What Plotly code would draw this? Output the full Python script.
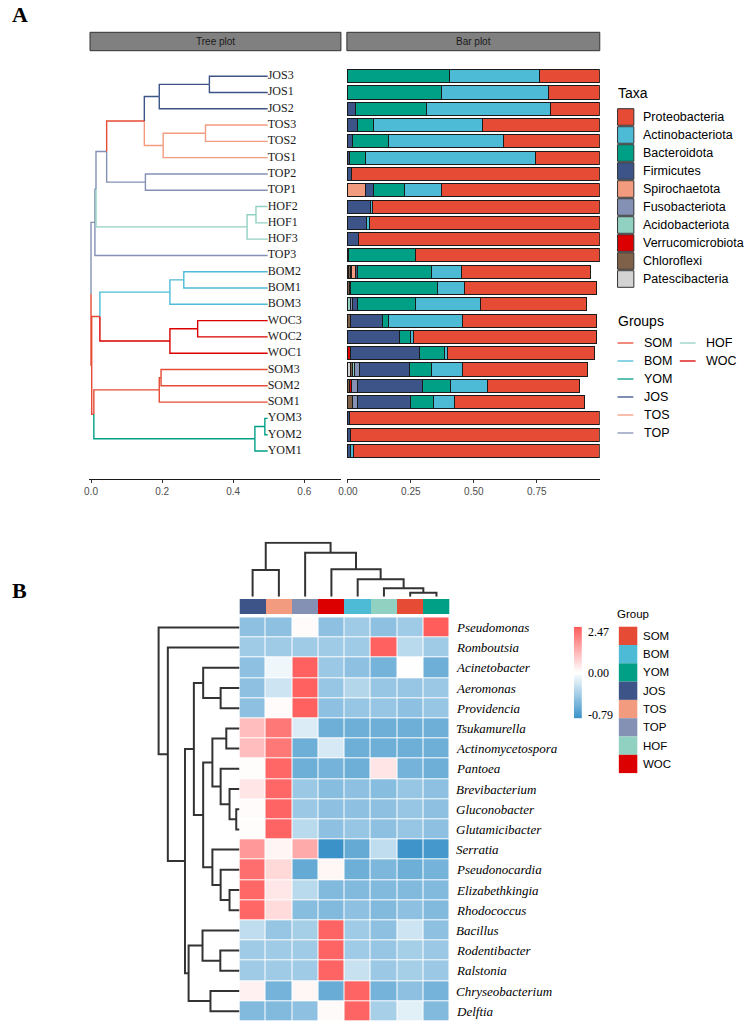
import plotly.graph_objects as go
import numpy as np

W, H = 744, 1024

# ---------------- Panel A data ----------------
groups = ["SOM", "BOM", "YOM", "JOS", "TOS", "TOP", "HOF", "WOC"]
group_colors = ["#E64B35", "#4DBBD5", "#00A087", "#3C5488", "#F39B7F", "#8491B4", "#91D1C2", "#DC0000"]

samples = ["JOS3", "JOS1", "JOS2", "TOS3", "TOS2", "TOS1", "TOP2", "TOP1", "HOF2", "HOF1", "HOF3", "TOP3",
           "BOM2", "BOM1", "BOM3", "WOC3", "WOC2", "WOC1", "SOM3", "SOM2", "SOM1", "YOM3", "YOM2", "YOM1"]

taxa = ["Proteobacteria", "Actinobacteriota", "Bacteroidota", "Firmicutes", "Spirochaetota",
        "Fusobacteriota", "Acidobacteriota", "Verrucomicrobiota", "Chloroflexi", "Patescibacteria"]
taxa_colors = ["#E64B35", "#4DBBD5", "#00A087", "#3C5488", "#F39B7F",
               "#8491B4", "#91D1C2", "#DC0000", "#7E6148", "#D3D3D3"]

proteobacteria = [0.240, 0.203, 0.196, 0.466, 0.384, 0.257, 0.984, 0.630, 0.902, 0.915, 0.958, 0.730,
                  0.512, 0.523, 0.418, 0.529, 0.729, 0.584, 0.497, 0.366, 0.514, 0.990, 0.988, 0.974]
actinobacteriota = [0.355, 0.424, 0.493, 0.434, 0.455, 0.672, 0, 0.146, 0.010, 0.013, 0, 0,
                    0.120, 0.108, 0.258, 0.294, 0.009, 0.012, 0.124, 0.144, 0.084, 0, 0, 0.012]
bacteroidota = [0.405, 0.373, 0.280, 0.063, 0.144, 0.064, 0, 0.122, 0, 0, 0, 0.266,
                0.294, 0.344, 0.233, 0.024, 0.046, 0.098, 0.086, 0.114, 0.094, 0, 0, 0]
firmicutes = [0, 0, 0.031, 0.037, 0.017, 0.007, 0.016, 0.031, 0.088, 0.072, 0.042, 0.004,
              0.008, 0.004, 0.017, 0.127, 0.204, 0.276, 0.200, 0.255, 0.207, 0.008, 0.010, 0.012]
spirochaetota = [0, 0, 0, 0, 0, 0, 0, 0.071, 0, 0, 0, 0,
                 0.018, 0, 0, 0, 0, 0, 0, 0, 0, 0, 0, 0]
fusobacteriota = [0, 0, 0, 0, 0, 0, 0, 0, 0, 0, 0, 0,
                  0.004, 0, 0.008, 0, 0, 0, 0.018, 0.026, 0.022, 0, 0, 0]
acidobacteriota = [0, 0, 0, 0, 0, 0, 0, 0, 0, 0, 0, 0,
                   0, 0, 0.012, 0, 0, 0, 0.008, 0, 0, 0, 0, 0]
verrucomicrobiota = [0, 0, 0, 0, 0, 0, 0, 0, 0, 0, 0, 0,
                     0, 0, 0, 0, 0, 0.010, 0, 0.006, 0, 0, 0, 0]
chloroflexi = [0, 0, 0, 0, 0, 0, 0, 0, 0, 0, 0, 0,
               0.006, 0.008, 0, 0.012, 0, 0, 0.010, 0.008, 0.018, 0, 0, 0]
patescibacteria = [0, 0, 0, 0, 0, 0, 0, 0, 0, 0, 0, 0,
                   0.003, 0, 0, 0, 0, 0, 0.010, 0, 0, 0, 0, 0]
taxa_values = [proteobacteria, actinobacteriota, bacteroidota, firmicutes, spirochaetota,
               fusobacteriota, acidobacteriota, verrucomicrobiota, chloroflexi, patescibacteria]

# sample tree: node = (depth from root, branch colour group, children)
leaf_depth = 0.497
sample_tree = (0.0, None, [
    (0.011, "TOP", [
        (0.014, "TOP", [
            (0.044, "TOP", [
                (0.150, "MIX", [
                    (0.192, "JOS", [(0.333, "JOS", ["JOS3", "JOS1"]), "JOS2"]),
                    (0.203, "TOS", [(0.322, "TOS", ["TOS3", "TOS2"]), "TOS1"])]),
                (0.153, "TOP", ["TOP2", "TOP1"])]),
            (0.439, "HOF", [(0.464, "HOF", ["HOF2", "HOF1"]), "HOF3"])]),
        "TOP3"]),
    (0.002, "MIX", [
        (0.025, "MIX", [
            (0.222, "BOM", [(0.261, "BOM", ["BOM2", "BOM1"]), "BOM3"]),
            (0.222, "WOC", [(0.300, "WOC", ["WOC3", "WOC2"]), "WOC1"])]),
        (0.008, "MIX", [
            (0.192, "SOM", [(0.197, "SOM", ["SOM3", "SOM2"]), "SOM1"]),
            (0.461, "YOM", [(0.489, "YOM", ["YOM3", "YOM2"]), "YOM1"])])])])

tree_ticks = [0.0, 0.2, 0.4, 0.6]
bar_ticks = [0.0, 0.25, 0.50, 0.75]

# ---------------- Panel B data ----------------
hm_cols = ["JOS", "TOS", "TOP", "WOC", "BOM", "HOF", "SOM", "YOM"]
hm_rows = ["Pseudomonas", "Romboutsia", "Acinetobacter", "Aeromonas", "Providencia", "Tsukamurella",
           "Actinomycetospora", "Pantoea", "Brevibacterium", "Gluconobacter", "Glutamicibacter", "Serratia",
           "Pseudonocardia", "Elizabethkingia", "Rhodococcus", "Bacillus", "Rodentibacter", "Ralstonia",
           "Chryseobacterium", "Delftia"]
hm_values = [
    [-0.45, -0.45, 0.06, -0.45, -0.38, -0.45, -0.38, 2.47],
    [-0.38, -0.38, -0.38, -0.38, -0.38, 2.40, -0.28, -0.38],
    [-0.45, -0.06, 2.40, -0.40, -0.45, -0.55, 0.02, -0.58],
    [-0.45, -0.20, 2.40, -0.42, -0.30, -0.42, -0.42, -0.40],
    [-0.45, 0.06, 2.40, -0.45, -0.42, -0.42, -0.45, -0.42],
    [1.00, 2.05, -0.14, -0.58, -0.58, -0.58, -0.58, -0.58],
    [1.00, 2.05, -0.58, -0.16, -0.58, -0.58, -0.58, -0.58],
    [0.04, 2.30, -0.58, -0.55, -0.58, 0.40, -0.55, -0.58],
    [0.40, 2.30, -0.40, -0.48, -0.45, -0.48, -0.42, -0.45],
    [0.06, 2.35, -0.40, -0.45, -0.45, -0.45, -0.42, -0.45],
    [0.05, 2.35, -0.28, -0.45, -0.42, -0.45, -0.42, -0.45],
    [1.55, 0.15, 1.30, -0.79, -0.62, -0.25, -0.77, -0.75],
    [2.20, 0.60, -0.62, 0.14, -0.58, -0.52, -0.58, -0.55],
    [2.30, 0.36, -0.28, -0.50, -0.50, -0.50, -0.50, -0.50],
    [2.30, 0.55, -0.48, -0.50, -0.45, -0.50, -0.45, -0.50],
    [-0.25, -0.42, -0.36, 2.35, -0.38, -0.45, -0.20, -0.45],
    [-0.38, -0.38, -0.38, 2.35, -0.38, -0.42, -0.36, -0.40],
    [-0.38, -0.38, -0.38, 2.35, -0.22, -0.40, -0.36, -0.40],
    [0.22, -0.55, 0.14, -0.60, 2.35, -0.55, -0.45, -0.55],
    [-0.50, -0.50, -0.45, 0.08, 2.35, -0.35, -0.12, -0.50],
]
# dendrograms: (height, left, right)
row_tree = (1.0, "Pseudomonas",
            (0.886, "Romboutsia",
             (0.674,
              (0.564,
               (0.449, "Acinetobacter", (0.233, "Aeromonas", "Providencia")),
               (0.449,
                (0.335, (0.163, "Tsukamurella", "Actinomycetospora"),
                 (0.233, "Pantoea", (0.123, "Brevibacterium", (0.040, "Gluconobacter", "Glutamicibacter")))),
                (0.335, "Serratia", (0.233, "Pseudonocardia", (0.123, "Elizabethkingia", "Rhodococcus"))))),
              (0.629, (0.457, "Bacillus", (0.237, "Rodentibacter", "Ralstonia")),
               (0.359, "Chryseobacterium", "Delftia")))))
col_tree = (1.0, (0.494, "JOS", "TOS"),
            (0.815, "TOP", (0.507, "WOC", (0.322, "BOM", (0.156, "HOF", (0.074, "SOM", "YOM"))))))

# ---------------- helpers ----------------
def dx(a, b):
    return [a / W, b / W]

def dy(top, bottom):
    return [1 - bottom / H, 1 - top / H]

def PX(x):
    return x / W

def PY(y):
    return 1 - y / H

gcol = dict(zip(groups, group_colors))
gcol["MIX"] = "#E64B35"
sample_group = {s: s[:3] for s in samples}
n_s = len(samples)
ypos = {s: n_s - i for i, s in enumerate(samples)}

fig = go.Figure()

# ---------------- tree ----------------
segs = {}

def add_seg(color, xs, ys):
    d = segs.setdefault(color, ([], []))
    d[0].extend(xs + [None])
    d[1].extend(ys + [None])

def walk(node):
    if isinstance(node, str):
        return leaf_depth, ypos[node], gcol[sample_group[node]]
    h, c, kids = node
    res = [walk(k) for k in kids]
    y = float(np.mean([r[1] for r in res]))
    for (kx, ky, kc) in res:
        add_seg(kc, [h, h, kx], [y, ky, ky])
    return h, y, (gcol[c] if c else None)

walk(sample_tree)
for color, (xs, ys) in segs.items():
    fig.add_trace(go.Scatter(x=xs, y=ys, mode="lines", line=dict(color=color, width=1.4),
                             xaxis="x", yaxis="y", hoverinfo="skip", showlegend=False))

fig.add_trace(go.Scatter(x=[leaf_depth] * n_s, y=[ypos[s] for s in samples], text=samples,
                         mode="text", textposition="middle right",
                         textfont=dict(family="Liberation Serif", size=12, color="#1a1a1a"),
                         xaxis="x", yaxis="y", hoverinfo="skip", showlegend=False, cliponaxis=False))

# ---------------- stacked bars ----------------
for name, color, vals in reversed(list(zip(taxa, taxa_colors, taxa_values))):
    fig.add_trace(go.Bar(x=[v if v > 0 else None for v in vals], y=[ypos[s] for s in samples],
                         orientation="h", marker=dict(color=color, line=dict(color="#1a1a1a", width=1)),
                         width=0.8, xaxis="x2", yaxis="y", name=name, showlegend=False, hoverinfo="skip"))

# ---------------- heatmap ----------------
zmin = float(np.min(hm_values))
zmax = float(np.max(hm_values))
p0 = (0 - zmin) / (zmax - zmin)
blue, red = "#3A92C9", "#FF5C5C"
cscale = [[0, blue], [p0 * 0.5, "#9CC9E5"], [p0, "#FFFFFF"], [p0 + (1 - p0) * 0.5, "#FFAEAE"], [1, red]]

fig.add_trace(go.Heatmap(z=hm_values, x=list(range(len(hm_cols))), y=list(range(len(hm_rows))),
                         colorscale=cscale, zmin=zmin, zmax=zmax, showscale=False, xgap=1, ygap=1,
                         xaxis="x3", yaxis="y3", hoverinfo="skip"))

# column annotation
ng = len(groups)
ann_scale = []
for k, c in enumerate(group_colors):
    ann_scale.append([k / ng, c])
    ann_scale.append([(k + 1) / ng, c])
fig.add_trace(go.Heatmap(z=[[groups.index(c) for c in hm_cols]], x=list(range(len(hm_cols))), y=[0],
                         colorscale=ann_scale, zmin=-0.5, zmax=ng - 0.5, showscale=False,
                         xaxis="x4", yaxis="y4", hoverinfo="skip"))

# dendrograms
row_pos = {r: i for i, r in enumerate(hm_rows)}
col_pos = {c: i for i, c in enumerate(hm_cols)}

def dendro(node, pos, out):
    if isinstance(node, str):
        return pos[node], 0.0
    h, a, b = node
    pa, ha = dendro(a, pos, out)
    pb, hb = dendro(b, pos, out)
    out.append(([ha, h, h, hb], [pa, pa, pb, pb]))
    return (pa + pb) / 2, h

rsegs = []
dendro(row_tree, row_pos, rsegs)
xs, ys = [], []
for hh, pp in rsegs:
    xs += hh + [None]
    ys += pp + [None]
fig.add_trace(go.Scatter(x=xs, y=ys, mode="lines", line=dict(color="#333333", width=2),
                         xaxis="x5", yaxis="y5", hoverinfo="skip", showlegend=False))

csegs = []
dendro(col_tree, col_pos, csegs)
xs, ys = [], []
for hh, pp in csegs:
    xs += pp + [None]
    ys += hh + [None]
fig.add_trace(go.Scatter(x=xs, y=ys, mode="lines", line=dict(color="#333333", width=2),
                         xaxis="x6", yaxis="y6", hoverinfo="skip", showlegend=False))

# colour bar
nb = 50
cb_vals = list(np.linspace(zmin, 0, nb)) + list(np.linspace(0, zmax, nb))
fig.add_trace(go.Heatmap(z=[[v] for v in cb_vals], x=[0], y=list(range(len(cb_vals))),
                         colorscale=cscale, zmin=zmin, zmax=zmax, showscale=False,
                         xaxis="x7", yaxis="y7", hoverinfo="skip"))

# ---------------- layout ----------------
axis_common = dict(showgrid=False, zeroline=False)
tickstyle = dict(showline=True, linecolor="#1a1a1a", linewidth=1, ticks="outside", ticklen=3,
                 tickcolor="#333333", tickfont=dict(family="Liberation Sans", size=10, color="#4D4D4D"))
hidden = dict(visible=False, showgrid=False, zeroline=False)

ydom_A = dy(55, 479)
yrng_A = [-0.72, 25.3]
ydom_hm = dy(617.3, 1021.3)

fig.update_layout(
    width=W, height=H, margin=dict(l=0, r=0, t=0, b=0),
    paper_bgcolor="white", plot_bgcolor="white", barmode="stack", showlegend=False,
    hovermode=False,
    xaxis=dict(domain=dx(81, 336), range=[-0.0056, 0.703], tickvals=tree_ticks,
               ticktext=[f"{t:.1f}" for t in tree_ticks], anchor="y", **axis_common, **tickstyle),
    yaxis=dict(domain=ydom_A, range=yrng_A, anchor="x", **hidden),
    xaxis2=dict(domain=dx(342, 598), range=[-0.004, 1.0], tickvals=bar_ticks,
                ticktext=[f"{t:.2f}" for t in bar_ticks], anchor="y", **axis_common, **tickstyle),
    xaxis3=dict(domain=dx(233.3, 446), range=[-0.5, len(hm_cols) - 0.5], anchor="y3", **hidden),
    yaxis3=dict(domain=ydom_hm, range=[len(hm_rows) - 0.5, -0.5], anchor="x3", **hidden),
    xaxis4=dict(domain=dx(233.3, 446), range=[-0.5, len(hm_cols) - 0.5], anchor="y4", **hidden),
    yaxis4=dict(domain=dy(599, 614.3), range=[-0.5, 0.5], anchor="x4", **hidden),
    xaxis5=dict(domain=dx(148, 233.3), range=[1.042, 0], anchor="y5", **hidden),
    yaxis5=dict(domain=ydom_hm, range=[len(hm_rows) - 0.5, -0.5], anchor="x5", **hidden),
    xaxis6=dict(domain=dx(233.3, 446), range=[-0.5, len(hm_cols) - 0.5], anchor="y6", **hidden),
    yaxis6=dict(domain=dy(541.7, 596.7), range=[0, 1.0185], anchor="x6", **hidden),
    xaxis7=dict(domain=dx(571.7, 580), range=[-0.5, 0.5], anchor="y7", **hidden),
    yaxis7=dict(domain=dy(626.7, 718.3), range=[-0.5, len(cb_vals) - 0.5], anchor="x7", **hidden),
)

shapes = []
annots = []

def note(text, x, y, size, family="Liberation Sans", xanchor="left", yref="paper", yshift=0):
    annots.append(dict(text=text, x=x, y=y, xref="paper", yref=yref, xanchor=xanchor, yanchor="middle",
                       yshift=yshift, showarrow=False, font=dict(family=family, size=size, color="black")))

# panel letters
note("<b>A</b>", PX(1), PY(14), 22, "Liberation Serif")
note("<b>B</b>", PX(1), PY(590), 22, "Liberation Serif")

# strips
for (x0, x1, label) in [(82, 336, "Tree plot"), (342, 598, "Bar plot")]:
    shapes.append(dict(type="rect", xref="paper", yref="paper", x0=PX(x0), x1=PX(x1), y0=PY(50.7), y1=PY(32.3),
                       fillcolor="#808080", line=dict(color="#333333", width=1)))
    annots.append(dict(text=label, x=PX((x0 + x1) / 2), y=PY(41.5), xref="paper", yref="paper",
                       xanchor="center", yanchor="middle", showarrow=False,
                       font=dict(family="Liberation Sans", size=10, color="#1a1a1a")))

# Taxa legend
note("Taxa", PX(614), PY(93), 14)
for i, (name, color) in enumerate(zip(taxa, taxa_colors)):
    yc = 117 + 18 * i
    shapes.append(dict(type="rect", xref="paper", yref="paper", x0=PX(616), x1=PX(632.5),
                       y0=PY(yc + 8.3), y1=PY(yc - 8.3), fillcolor=color, line=dict(color="#333333", width=1)))
    note(name, PX(640), PY(yc), 12.5)

# Groups legend
note("Groups", PX(614), PY(321), 14)
for i, (g, color) in enumerate(zip(groups, group_colors)):
    col, row = divmod(i, 6)
    yc = 343 + 18 * row
    lx0 = 616 + 63 * col
    shapes.append(dict(type="line", xref="paper", yref="paper", x0=PX(lx0), x1=PX(lx0 + 16),
                       y0=PY(yc), y1=PY(yc), line=dict(color=color, width=1.3)))
    note(g, PX(lx0 + 24.5), PY(yc), 12.5)

# heatmap row labels
for r in hm_rows:
    note(f"<i>{r}</i>", PX(450.5), row_pos[r], 13, "Liberation Serif", yref="y3")

# colour bar labels
for val, idx, shift in [(zmax, len(cb_vals) - 1, -5), (0.0, (len(cb_vals) - 1) / 2, 0), (zmin, 0, 3)]:
    note(f"{val:.2f}", PX(584), idx, 12, "Liberation Serif", yref="y7", yshift=shift)

# heatmap group legend
note("Group", PX(613), PY(614), 11.5)
for i, (g, color) in enumerate(zip(groups, group_colors)):
    y0 = 626.7 + 18.3 * i
    shapes.append(dict(type="rect", xref="paper", yref="paper", x0=PX(617.3), x1=PX(636),
                       y0=PY(y0 + 18.3), y1=PY(y0), fillcolor=color, line=dict(width=0)))
    note(g, PX(640), PY(y0 + 9.15), 11.5)

fig.update_layout(shapes=shapes, annotations=annots)
fig.write_html("out.html", config={"displayModeBar": False},
               post_script="document.body.style.margin='0px';document.body.style.overflow='hidden';")
